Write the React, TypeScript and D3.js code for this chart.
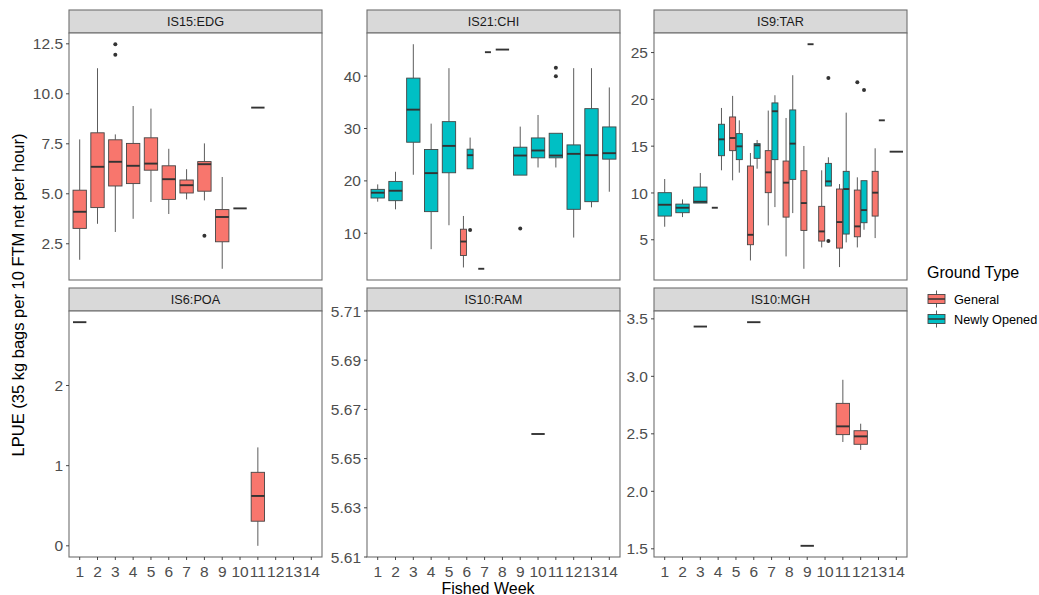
import React from "react";
import * as d3 from "d3";

const weeks = ["1", "2", "3", "4", "5", "6", "7", "8", "9", "10", "11", "12", "13", "14"];
const groundTypes = ["General", "Newly Opened"];
const groundColors = ["#F8766D", "#00BFC4"];

// [week, groundTypeIndex, lower whisker, Q1, median, Q3, upper whisker, outliers]
type Box = [number, number, number, number, number, number, number, number[]?];

const edgBoxes: Box[] = [
  [1, 0, 1.7, 3.27, 4.1, 5.18, 7.72],
  [2, 0, 3.5, 4.31, 6.35, 8.05, 11.28],
  [3, 0, 3.09, 5.39, 6.6, 7.7, 7.97, [11.95, 12.48]],
  [4, 0, 3.75, 5.51, 6.4, 7.52, 9.39],
  [5, 0, 4.59, 6.18, 6.51, 7.8, 9.26],
  [6, 0, 3.99, 4.72, 5.73, 6.4, 7.25],
  [7, 0, 4.72, 5.04, 5.43, 5.69, 6.23],
  [8, 0, 4.67, 5.13, 6.48, 6.61, 7.52, [2.9]],
  [9, 0, 1.25, 2.6, 3.84, 4.21, 5.84],
  [10, 0, 4.27, 4.27, 4.27, 4.27, 4.27],
  [11, 0, 9.31, 9.31, 9.31, 9.31, 9.31],
];

const chiBoxes: Box[] = [
  [1, 1, 16.03, 16.73, 17.74, 18.38, 19.33],
  [2, 1, 14.57, 16.22, 18.12, 19.9, 21.74],
  [3, 1, 21.17, 27.38, 33.6, 39.62, 46.09],
  [4, 1, 6.96, 14.13, 21.48, 25.99, 30.93],
  [5, 1, 11.53, 21.55, 26.68, 31.31, 41.52],
  [6, 0, 3.47, 5.76, 8.42, 10.77, 13.3],
  [6, 1, 22.31, 22.31, 24.91, 26.05, 28.27, [10.64]],
  [7, 0, 3.22, 3.22, 3.22, 3.22, 3.22],
  [7, 1, 44.57, 44.57, 44.57, 44.57, 44.57],
  [8, 1, 45.07, 45.07, 45.07, 45.07, 45.07],
  [9, 1, 21.1, 21.1, 24.84, 26.43, 30.36, [10.89]],
  [10, 1, 22.56, 24.4, 25.8, 28.2, 32.58],
  [11, 1, 22.56, 24.4, 24.84, 29.09, 29.09, [40.0, 41.59]],
  [12, 1, 9.18, 14.57, 25.16, 26.87, 41.52],
  [13, 1, 14.95, 16.03, 24.91, 33.79, 41.52],
  [14, 1, 17.93, 24.15, 25.29, 30.3, 37.84],
];

const tarBoxes: Box[] = [
  [1, 1, 6.39, 7.53, 8.74, 10.03, 11.49],
  [2, 1, 7.42, 7.89, 8.42, 8.81, 9.31],
  [3, 1, 8.92, 8.92, 9.06, 10.63, 12.13],
  [4, 0, 8.42, 8.42, 8.42, 8.42, 8.42],
  [4, 1, 12.42, 13.98, 15.73, 17.34, 19.08],
  [5, 0, 11.35, 14.52, 15.87, 18.12, 20.37],
  [5, 1, 12.17, 13.56, 14.98, 16.34, 17.76],
  [6, 0, 2.79, 4.47, 5.53, 12.88, 14.27],
  [6, 1, 12.59, 13.7, 15.09, 15.27, 15.66],
  [7, 0, 6.53, 10.03, 12.2, 14.52, 18.8],
  [7, 1, 8.49, 13.56, 18.73, 19.62, 20.44],
  [8, 0, 3.22, 7.42, 11.1, 13.41, 18.01],
  [8, 1, 7.85, 11.45, 15.27, 18.87, 22.58],
  [9, 0, 1.9, 6.0, 8.92, 12.38, 15.02],
  [9, 1, 25.89, 25.89, 25.89, 25.89, 25.89],
  [10, 0, 4.18, 4.86, 5.89, 8.57, 12.42],
  [10, 1, 10.74, 10.74, 11.24, 13.16, 13.81, [4.86, 22.29]],
  [11, 0, 2.08, 4.11, 6.89, 10.42, 10.95],
  [11, 1, 4.72, 5.61, 10.42, 12.31, 18.58],
  [12, 0, 4.18, 5.32, 6.43, 10.31, 11.67, [21.83]],
  [12, 1, 6.07, 6.82, 8.17, 11.31, 11.31, [21.0]],
  [13, 0, 5.18, 7.53, 10.03, 12.31, 14.77],
  [13, 1, 17.76, 17.76, 17.76, 17.76, 17.76],
  [14, 1, 14.41, 14.41, 14.41, 14.41, 14.41],
];

const poaBoxes: Box[] = [
  [1, 0, 2.79, 2.79, 2.79, 2.79, 2.79],
  [11, 0, 0.0, 0.307, 0.622, 0.917, 1.228],
];

const ramBoxes: Box[] = [[10, 0, 5.66, 5.66, 5.66, 5.66, 5.66]];

const mghBoxes: Box[] = [
  [3, 0, 3.433, 3.433, 3.433, 3.433, 3.433],
  [6, 0, 3.471, 3.471, 3.471, 3.471, 3.471],
  [9, 0, 1.526, 1.526, 1.526, 1.526, 1.526],
  [11, 0, 2.429, 2.493, 2.565, 2.765, 2.97],
  [12, 0, 2.36, 2.409, 2.478, 2.527, 2.588],
];

const edgTicks = ["2.5", "5.0", "7.5", "10.0", "12.5"];
const chiTicks = ["10", "20", "30", "40"];
const tarTicks = ["5", "10", "15", "20", "25"];
const poaTicks = ["0", "1", "2"];
const ramTicks = ["5.61", "5.63", "5.65", "5.67", "5.69", "5.71"];
const mghTicks = ["1.5", "2.0", "2.5", "3.0", "3.5"];

const panelNames = ["IS15:EDG", "IS21:CHI", "IS9:TAR", "IS6:POA", "IS10:RAM", "IS10:MGH"];
const panelBoxes = [edgBoxes, chiBoxes, tarBoxes, poaBoxes, ramBoxes, mghBoxes];
const panelTicks = [edgTicks, chiTicks, tarTicks, poaTicks, ramTicks, mghTicks];

const FONT = "'Liberation Sans', Arial, Helvetica, sans-serif";
const PANEL_W = 253;
const colX = [69, 367, 654];
const rows = [
  { stripTop: 10, top: 33, bottom: 280 },
  { stripTop: 288, top: 311, bottom: 557 },
];

function Panel({ idx }: { idx: number }) {
  const col = idx % 3;
  const row = Math.floor(idx / 3);
  const left = colX[col];
  const right = left + PANEL_W;
  const { stripTop, top, bottom } = rows[row];
  const boxes = panelBoxes[idx];
  const ticks = panelTicks[idx];

  const allVals: number[] = [];
  boxes.forEach((b) => {
    allVals.push(b[2], b[6]);
    (b[7] || []).forEach((o) => allVals.push(o));
  });
  let [mn, mx] = d3.extent(allVals) as [number, number];
  let domain: [number, number];
  if (mx - mn < 1e-9) domain = [mn - 0.05, mx + 0.05];
  else {
    const pad = (mx - mn) * 0.05;
    domain = [mn - pad, mx + pad];
  }
  const y = d3.scaleLinear().domain(domain).range([bottom, top]);
  const x = d3.scalePoint<string>().domain(weeks).range([left, right]).padding(0.6);
  const step = x.step();
  const fullW = step * 0.75;

  const groupCount = d3.rollup(boxes, (v) => v.length, (b) => b[0]);

  return (
    <g>
      <rect x={left} y={stripTop} width={PANEL_W} height={top - stripTop} fill="#d9d9d9" stroke="#6f6f6f" strokeWidth={1.1} />
      <text x={(left + right) / 2} y={(stripTop + top) / 2} dy="0.36em" textAnchor="middle" fontSize={12.7} fill="#1a1a1a" fontFamily={FONT}>
        {panelNames[idx]}
      </text>
      <rect x={left} y={top} width={PANEL_W} height={bottom - top} fill="#ffffff" stroke="none" />
      {boxes.map((b, i) => {
        const [wk, gt, lo, q1, med, q3, hi, outs] = b;
        const center = x(String(wk)) as number;
        const n = groupCount.get(wk) || 1;
        let cx = center;
        let w = fullW;
        if (n > 1) {
          const slot = fullW / n;
          cx = center - fullW / 2 + slot * (gt + 0.5);
          w = slot * 0.9;
        }
        const fill = groundColors[gt];
        return (
          <g key={i}>
            <line x1={cx} x2={cx} y1={y(hi)} y2={y(q3)} stroke="#4a4a4a" strokeWidth={0.9} />
            <line x1={cx} x2={cx} y1={y(q1)} y2={y(lo)} stroke="#4a4a4a" strokeWidth={0.9} />
            {y(q1) - y(q3) > 0.01 && (
              <rect x={cx - w / 2} y={y(q3)} width={w} height={y(q1) - y(q3)} fill={fill} stroke="#444" strokeWidth={0.9} />
            )}
            <line x1={cx - w / 2} x2={cx + w / 2} y1={y(med)} y2={y(med)} stroke="#333" strokeWidth={1.9} />
            {(outs || []).map((o, j) => (
              <circle key={j} cx={cx} cy={y(o)} r={2} fill="#333" />
            ))}
          </g>
        );
      })}
      <rect x={left} y={top} width={PANEL_W} height={bottom - top} fill="none" stroke="#6f6f6f" strokeWidth={1.1} />
      {ticks.map((t) => {
        const yy = y(+t);
        return (
          <g key={t}>
            <line x1={left - 3} x2={left} y1={yy} y2={yy} stroke="#333" strokeWidth={0.9} />
            <text x={left - 6} y={yy} dy="0.36em" textAnchor="end" fontSize={15.5} fill="#4d4d4d" fontFamily={FONT}>
              {t}
            </text>
          </g>
        );
      })}
      {row === 1 &&
        weeks.map((wk) => {
          const xx = x(wk) as number;
          return (
            <g key={wk}>
              <line x1={xx} x2={xx} y1={bottom} y2={bottom + 3} stroke="#333" strokeWidth={0.9} />
              <text x={xx} y={576.5} textAnchor="middle" fontSize={15.5} fill="#4d4d4d" fontFamily={FONT}>
                {wk}
              </text>
            </g>
          );
        })}
    </g>
  );
}

export default function App() {
  return (
    <svg width={1039} height={595} style={{ position: "absolute", left: 0, top: 0, display: "block", background: "#fff" }}>
      <rect x={0} y={0} width={1039} height={595} fill="#fff" />
      {panelNames.map((_, i) => (
        <Panel key={i} idx={i} />
      ))}
      <text transform="translate(24,295) rotate(-90)" textAnchor="middle" fontSize={16.5} fill="#000" fontFamily={FONT}>
        LPUE (35 kg bags per 10 FTM net per hour)
      </text>
      <text x={(colX[0] + colX[2] + PANEL_W) / 2} y={594} textAnchor="middle" fontSize={16} fill="#000" fontFamily={FONT}>
        Fished Week
      </text>
      <text x={927} y={278} fontSize={16} fill="#000" fontFamily={FONT}>
        Ground Type
      </text>
      {groundTypes.map((g, i) => {
        const cy = 299 + i * 20;
        const kx = 928;
        const kw = 17;
        return (
          <g key={g}>
            <line x1={kx + kw / 2} x2={kx + kw / 2} y1={cy - 8.5} y2={cy + 8.5} stroke="#4a4a4a" strokeWidth={0.9} />
            <rect x={kx} y={cy - 4.5} width={kw} height={9} fill={groundColors[i]} stroke="#444" strokeWidth={0.9} />
            <line x1={kx} x2={kx + kw} y1={cy} y2={cy} stroke="#333" strokeWidth={1.5} />
            <text x={954} y={cy} dy="0.36em" fontSize={12.7} fill="#000" fontFamily={FONT}>
              {g}
            </text>
          </g>
        );
      })}
    </svg>
  );
}
